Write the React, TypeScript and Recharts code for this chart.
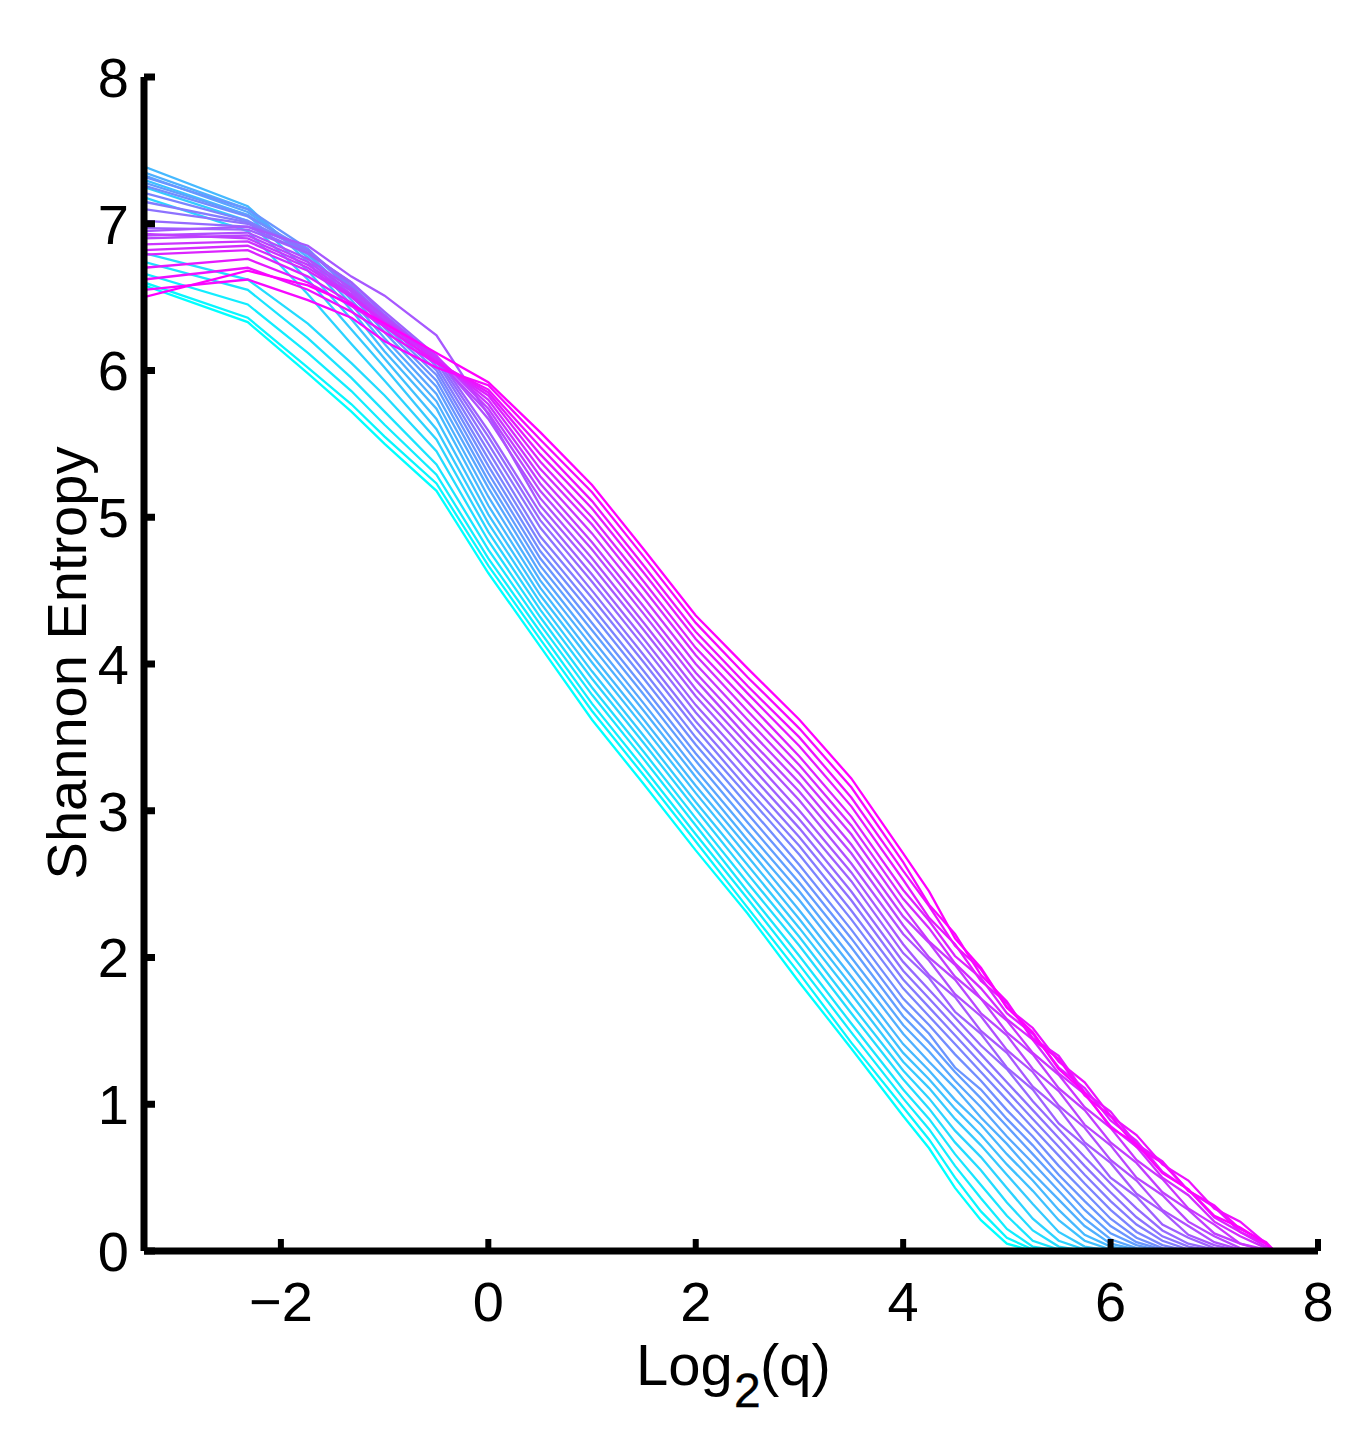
// Shannon entropy vs log2(q) — one trace per run, cool colormap (cyan → magenta).

import React from 'react';
import { LineChart, Line, XAxis, YAxis } from 'recharts';

// log2(q) sample positions shared by every run
const LOG2_Q = [
  -3.32, -2.32, -1.74, -1.32, -1, -0.5, 0, 0.5, 1, 1.5, 2, 2.5, 3, 3.5, 4,
  4.25, 4.5, 4.75, 5, 5.25, 5.5, 5.75, 6, 6.25, 6.5, 6.75, 7, 7.25, 7.5, 7.58,
];

// entropy per run; a run stops once it has hit zero
const run00 = [6.58, 6.33, 5.98, 5.72, 5.5, 5.18, 4.62, 4.12, 3.62, 3.18, 2.73, 2.3, 1.83, 1.38, 0.92, 0.7, 0.43, 0.21, 0.05, 0];
const run01 = [6.6, 6.36, 6.02, 5.77, 5.55, 5.23, 4.67, 4.17, 3.68, 3.24, 2.79, 2.34, 1.89, 1.42, 0.98, 0.76, 0.5, 0.27, 0.09, 0.01, 0];
const run02 = [6.66, 6.45, 6.12, 5.86, 5.63, 5.29, 4.72, 4.22, 3.73, 3.29, 2.84, 2.4, 1.95, 1.49, 1.04, 0.83, 0.58, 0.36, 0.15, 0.03, 0];
const run03 = [6.74, 6.55, 6.22, 5.95, 5.72, 5.36, 4.78, 4.27, 3.79, 3.35, 2.9, 2.45, 2.01, 1.55, 1.1, 0.9, 0.66, 0.45, 0.24, 0.07, 0.01, 0];
const run04 = [6.8, 6.62, 6.32, 6.05, 5.83, 5.45, 4.84, 4.32, 3.84, 3.4, 2.95, 2.51, 2.08, 1.62, 1.17, 0.97, 0.74, 0.55, 0.33, 0.14, 0.03, 0];
const run05 = [7.18, 6.95, 6.52, 6.18, 5.93, 5.53, 4.9, 4.37, 3.9, 3.46, 3.01, 2.57, 2.14, 1.68, 1.23, 1.04, 0.82, 0.64, 0.43, 0.22, 0.07, 0.01, 0];
const run06 = [7.25, 7.02, 6.62, 6.28, 6.02, 5.6, 4.96, 4.42, 3.95, 3.51, 3.06, 2.63, 2.2, 1.75, 1.29, 1.11, 0.9, 0.72, 0.52, 0.32, 0.13, 0.03, 0];
const run07 = [7.3, 7.06, 6.68, 6.35, 6.08, 5.67, 5.02, 4.47, 4.01, 3.57, 3.12, 2.69, 2.26, 1.81, 1.35, 1.17, 0.97, 0.79, 0.59, 0.41, 0.21, 0.07, 0.01, 0];
const run08 = [7.39, 7.12, 6.74, 6.41, 6.13, 5.74, 5.08, 4.52, 4.06, 3.62, 3.17, 2.75, 2.32, 1.87, 1.41, 1.23, 1.03, 0.86, 0.66, 0.48, 0.28, 0.11, 0.03, 0];
const run09 = [7.35, 7.1, 6.77, 6.45, 6.18, 5.79, 5.14, 4.57, 4.12, 3.68, 3.23, 2.8, 2.39, 1.94, 1.48, 1.29, 1.11, 0.91, 0.73, 0.53, 0.35, 0.17, 0.05, 0.01, 0];
const run10 = [7.33, 7.08, 6.79, 6.48, 6.22, 5.84, 5.2, 4.62, 4.17, 3.73, 3.28, 2.86, 2.45, 2.0, 1.54, 1.36, 1.16, 0.98, 0.78, 0.6, 0.41, 0.22, 0.08, 0.02, 0];
const run11 = [7.28, 7.06, 6.8, 6.51, 6.26, 5.89, 5.25, 4.67, 4.23, 3.79, 3.34, 2.92, 2.51, 2.07, 1.6, 1.42, 1.22, 1.04, 0.85, 0.66, 0.47, 0.28, 0.12, 0.04, 0];
const run12 = [7.32, 7.1, 6.83, 6.54, 6.29, 5.93, 5.3, 4.72, 4.28, 3.84, 3.39, 2.98, 2.57, 2.13, 1.66, 1.48, 1.25, 1.1, 0.9, 0.72, 0.52, 0.34, 0.17, 0.06, 0.01, 0];
const run13 = [7.26, 7.05, 6.82, 6.55, 6.31, 5.97, 5.35, 4.77, 4.34, 3.9, 3.45, 3.04, 2.63, 2.19, 1.72, 1.54, 1.34, 1.16, 0.96, 0.78, 0.58, 0.4, 0.22, 0.09, 0.02, 0];
const run14 = [7.21, 7.02, 6.82, 6.56, 6.33, 6.0, 5.4, 4.82, 4.39, 3.95, 3.5, 3.1, 2.7, 2.26, 1.79, 1.6, 1.41, 1.22, 1.03, 0.84, 0.65, 0.46, 0.28, 0.13, 0.04, 0];
const run15 = [7.15, 7.01, 6.82, 6.57, 6.35, 6.03, 5.45, 4.87, 4.45, 4.01, 3.56, 3.15, 2.76, 2.32, 1.85, 1.66, 1.47, 1.28, 1.09, 0.9, 0.71, 0.52, 0.34, 0.18, 0.07, 0.01, 0];
const run16 = [7.1, 7.0, 6.82, 6.58, 6.36, 6.06, 5.5, 4.93, 4.5, 4.06, 3.61, 3.21, 2.82, 2.39, 1.91, 1.72, 1.53, 1.34, 1.15, 0.96, 0.77, 0.58, 0.4, 0.23, 0.1, 0.03, 0];
const run17 = [7.02, 6.98, 6.8, 6.6, 6.38, 6.08, 5.55, 4.98, 4.56, 4.12, 3.67, 3.27, 2.88, 2.45, 1.97, 1.78, 1.59, 1.4, 1.24, 1.02, 0.83, 0.64, 0.46, 0.29, 0.14, 0.05, 0.01, 0];
const run18 = [6.97, 6.96, 6.8, 6.6, 6.4, 6.1, 5.59, 5.03, 4.61, 4.17, 3.72, 3.33, 2.94, 2.52, 2.03, 1.86, 1.63, 1.48, 1.25, 1.1, 0.87, 0.72, 0.5, 0.37, 0.18, 0.09, 0.02, 0];
const run19 = [6.95, 6.98, 6.85, 6.64, 6.51, 6.24, 5.7, 5.08, 4.67, 4.23, 3.78, 3.39, 3.0, 2.58, 2.09, 1.88, 1.73, 1.5, 1.35, 1.12, 0.97, 0.74, 0.6, 0.39, 0.27, 0.11, 0.04, 0];
const run20 = [6.92, 6.94, 6.76, 6.56, 6.37, 6.09, 5.67, 5.13, 4.72, 4.28, 3.83, 3.45, 3.07, 2.64, 2.16, 1.98, 1.75, 1.6, 1.37, 1.22, 0.99, 0.84, 0.62, 0.48, 0.28, 0.17, 0.06, 0.01, 0];
const run21 = [6.9, 6.92, 6.74, 6.54, 6.36, 6.08, 5.71, 5.18, 4.78, 4.34, 3.89, 3.5, 3.13, 2.71, 2.22, 2.0, 1.85, 1.62, 1.47, 1.24, 1.09, 0.86, 0.72, 0.5, 0.38, 0.2, 0.1, 0.02, 0];
const run22 = [6.93, 6.9, 6.72, 6.52, 6.34, 6.1, 5.74, 5.23, 4.83, 4.39, 3.94, 3.56, 3.19, 2.77, 2.28, 2.1, 1.87, 1.72, 1.49, 1.34, 1.11, 0.96, 0.74, 0.6, 0.4, 0.28, 0.12, 0.05, 0];
const run23 = [6.86, 6.88, 6.7, 6.51, 6.33, 6.09, 5.77, 5.28, 4.89, 4.45, 4.0, 3.62, 3.25, 2.84, 2.34, 2.11, 1.95, 1.72, 1.57, 1.35, 1.2, 0.98, 0.84, 0.62, 0.49, 0.29, 0.18, 0.05, 0.01, 0];
const run24 = [6.82, 6.85, 6.68, 6.5, 6.32, 6.08, 5.8, 5.33, 4.95, 4.51, 4.06, 3.68, 3.31, 2.9, 2.4, 2.2, 1.96, 1.79, 1.58, 1.44, 1.21, 1.07, 0.85, 0.71, 0.5, 0.38, 0.2, 0.1, 0.02, 0];
const run25 = [6.79, 6.82, 6.64, 6.46, 6.3, 6.06, 5.83, 5.38, 5.0, 4.56, 4.11, 3.74, 3.37, 2.96, 2.46, 2.25, 2.01, 1.86, 1.62, 1.48, 1.25, 1.11, 0.89, 0.75, 0.54, 0.42, 0.23, 0.13, 0.03, 0];
const run26 = [6.7, 6.76, 6.6, 6.44, 6.3, 6.06, 5.85, 5.43, 5.06, 4.62, 4.17, 3.8, 3.44, 3.03, 2.53, 2.27, 2.09, 1.84, 1.69, 1.45, 1.33, 1.08, 0.95, 0.73, 0.61, 0.41, 0.3, 0.13, 0.05, 0];
const run27 = [6.62, 6.7, 6.55, 6.4, 6.26, 6.05, 5.87, 5.48, 5.11, 4.67, 4.22, 3.85, 3.5, 3.09, 2.59, 2.35, 2.08, 1.92, 1.66, 1.52, 1.29, 1.15, 0.92, 0.79, 0.59, 0.48, 0.29, 0.2, 0.05, 0];
const run28 = [6.55, 6.62, 6.48, 6.36, 6.2, 6.02, 5.9, 5.53, 5.17, 4.73, 4.28, 3.91, 3.56, 3.16, 2.65, 2.36, 2.16, 1.88, 1.7, 1.44, 1.31, 1.06, 0.92, 0.71, 0.6, 0.41, 0.31, 0.15, 0.06, 0];
const run29 = [6.5, 6.68, 6.58, 6.45, 6.32, 6.12, 5.92, 5.58, 5.22, 4.78, 4.33, 3.97, 3.62, 3.22, 2.71, 2.45, 2.13, 1.93, 1.66, 1.49, 1.24, 1.08, 0.84, 0.73, 0.53, 0.42, 0.24, 0.16, 0.05, 0];

const RUNS = [
  run00, run01, run02, run03, run04, run05, run06, run07, run08, run09,
  run10, run11, run12, run13, run14, run15, run16, run17, run18, run19,
  run20, run21, run22, run23, run24, run25, run26, run27, run28, run29,
];

const X_TICKS = [-2, 0, 2, 4, 6, 8];
const Y_TICKS = [0, 1, 2, 3, 4, 5, 6, 7, 8];

const FONT = '"Liberation Sans", Arial, Helvetica, sans-serif';

// MATLAB "cool": cyan -> magenta
const coolColor = (t: number) =>
  `rgb(${Math.round(255 * t)}, ${Math.round(255 * (1 - t))}, 255)`;

const rows = LOG2_Q.map((x, k) => {
  const row: Record<string, number | null> = { x };
  RUNS.forEach((run, i) => {
    row[`r${i}`] = run[k] ?? null;
  });
  return row;
});

const fmtTick = (v: number) => (v < 0 ? `\u2212${-v}` : `${v}`);

export default function App() {
  return (
    <LineChart
      width={1340}
      height={1420}
      data={rows}
      margin={{ top: 69, right: 30, bottom: 0, left: 0 }}
      style={{ background: '#fff' }}
    >
      <XAxis
        dataKey="x"
        type="number"
        domain={[-3.32, 8]}
        ticks={X_TICKS}
        allowDataOverflow
        height={177}
        tickFormatter={fmtTick}
        axisLine={{ stroke: '#000', strokeWidth: 7 }}
        tickLine={{ stroke: '#000', strokeWidth: 6 }}
        tickSize={-12}
        tickMargin={42}
        tick={{ fill: '#000', fontSize: 56, fontFamily: FONT }}
        label={() => (
          <g fontFamily={FONT}>
            <text x={628} y={1377} fontSize={58} fill="#000">Log</text>
            <text x={726} y={1399} fontSize={48} fill="#000" stroke="#000" strokeWidth={0.4}>2</text>
            <text x={752} y={1377} fontSize={58} fill="#000">(q)</text>
          </g>
        )}
      />
      <YAxis
        type="number"
        domain={[0, 8]}
        ticks={Y_TICKS}
        allowDataOverflow
        width={136}
        tickFormatter={fmtTick}
        axisLine={{ stroke: '#000', strokeWidth: 7 }}
        tickLine={{ stroke: '#000', strokeWidth: 7 }}
        tickSize={-11}
        tickMargin={26}
        tick={{ fill: '#000', fontSize: 56, fontFamily: FONT }}
        label={() => (
          <text
            x={78}
            y={655}
            transform="rotate(-90 78 655)"
            textAnchor="middle"
            fill="#000"
            fontSize={56}
            fontFamily={FONT}
          >
            Shannon Entropy
          </text>
        )}
      />
      {RUNS.map((_, i) => (
        <Line
          key={`r${i}`}
          dataKey={`r${i}`}
          type="linear"
          stroke={coolColor(i / (RUNS.length - 1))}
          strokeWidth={2.3}
          dot={false}
          activeDot={false}
          isAnimationActive={false}
        />
      ))}
    </LineChart>
  );
}
